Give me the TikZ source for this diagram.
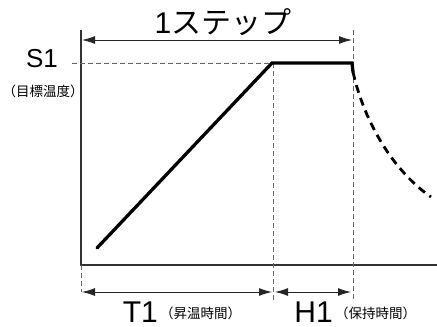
\documentclass[tikz,border=0pt]{standalone}
\usepackage{fontspec}
\setmainfont{Liberation Sans}
\newfontfamily\jp{Noto Sans CJK JP}
\usetikzlibrary{arrows.meta}
\tikzset{
  axisline/.style={draw=black!80, line width=1.3pt},
  guide/.style={draw=black!60, line width=0.8pt, dash pattern=on 5pt off 3pt},
  dimline/.style={draw=black!85, line width=1pt, {Latex[length=13pt,width=8pt]}-{Latex[length=13pt,width=8pt]}},
  profile/.style={draw=black, line width=3.3pt},
  profdash/.style={draw=black, line width=2.8pt, dash pattern=on 8pt off 5.5pt},
  big/.style={inner sep=0pt, font=\fontsize{30}{30}\selectfont},
  small/.style={inner sep=0pt, font=\jp\fontsize{13.5}{13.5}\selectfont},
}
\begin{document}
\begin{tikzpicture}[x=1pt,y=-1pt]
\useasboundingbox[fill=white] (0,0) rectangle (437,327);
% coordinates
\coordinate (ytop) at (81,30);
\coordinate (origin) at (81,265);
\coordinate (xend) at (437,265);
\coordinate (ybot) at (81,292);
\coordinate (s1l) at (72,63);
\coordinate (rs) at (97,248);
\coordinate (re) at (272,63);
\coordinate (pe) at (352,63);
\coordinate (pd) at (353,72);
\coordinate (ce) at (431,197);
\coordinate (v1t) at (273,63);
\coordinate (v1b) at (273,300);
\coordinate (v2t) at (353,30);
\coordinate (v2b) at (353,300);
\coordinate (a1l) at (82,40);
\coordinate (a1r) at (352,40);
\coordinate (a2l) at (82,292);
\coordinate (a2r) at (272,292);
\coordinate (a3l) at (275,292);
\coordinate (a3r) at (351,292);
% axes
\draw[axisline] (ytop) -- (origin) -- (xend);
% guides
\draw[guide] (origin) -- (ybot);
\draw[guide] (s1l) -- (re);
\draw[guide] (v1t) -- (v1b);
\draw[guide] (v2t) -- (v2b);
% dimension arrows
\draw[dimline] (a1l) -- (a1r);
\draw[dimline] (a2l) -- (a2r);
\draw[dimline] (a3l) -- (a3r);
% profile
\draw[profile, line cap=round] (rs) -- (re) -- (pe) -- (pd);
\draw[profdash] (pd) .. controls (365,125) and (395,172) .. (ce);
% labels
\node[big, anchor=base] (step) at (223,33) {1{\jp ステップ}};
\node[big, anchor=base, font=\fontsize{26}{26}\selectfont] (s1) at (42,67) {S1};
\node[small, anchor=base] (s1t) at (43,96) {（目標温度）};
\node[big, anchor=base east] (t1) at (158,322) {T1};
\node[small, anchor=base west] (t1t) at (160,318) {（昇温時間）};
\node[big, anchor=base east] (h1) at (333,322) {H1};
\node[small, anchor=base west] (h1t) at (335,318) {（保持時間）};
\end{tikzpicture}
\end{document}
